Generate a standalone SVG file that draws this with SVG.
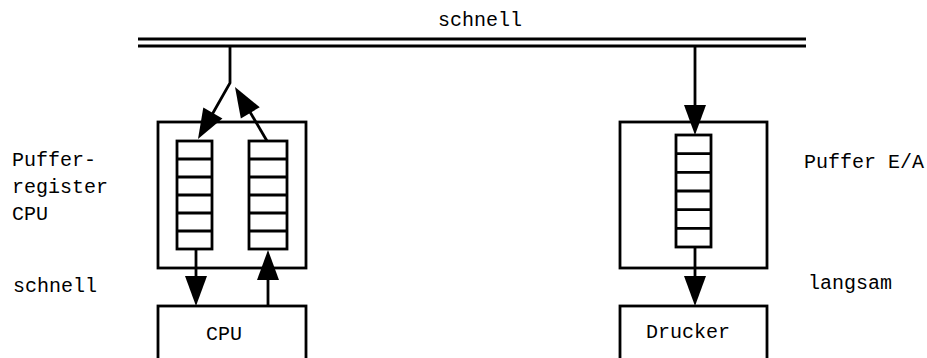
<svg xmlns="http://www.w3.org/2000/svg" width="927" height="358" viewBox="0 0 927 358">
<style>
.b{fill:none;stroke:#000;stroke-width:2.8}
.c{stroke:#000;stroke-width:2.8;fill:none}
.t{font-family:"Liberation Mono","Courier New",monospace;font-size:20px;fill:#000}
</style>
<defs>
<path id="head" d="M0,0 L-30,-11 L-30,11 Z" fill="#000"/>
</defs>
<rect width="927" height="358" fill="#fff"/>
<g id="bus">
<line class="c" x1="138" y1="39" x2="806" y2="39"/>
<line class="c" x1="138" y1="46" x2="806" y2="46"/>
<text class="t" x="438" y="26">schnell</text>
</g>
<g id="puffer-cpu">
<rect class="b" x="158" y="122" width="148" height="146"/>
<rect class="b" x="177" y="141" width="35" height="108"/>
<path class="c" d="M177,159H212M177,177H212M177,195H212M177,213H212M177,231H212"/>
<rect class="b" x="249" y="141" width="38" height="108"/>
<path class="c" d="M249,159H287M249,177H287M249,195H287M249,213H287M249,231H287"/>
</g>
<g id="puffer-ea">
<rect class="b" x="620" y="122" width="147" height="146"/>
<rect class="b" x="676" y="135" width="35" height="112"/>
<path class="c" d="M676,153.7H711M676,172.3H711M676,191H711M676,209.7H711M676,228.3H711"/>
</g>
<g id="cpu">
<rect class="b" x="158" y="306" width="148" height="70"/>
<text class="t" x="206" y="340">CPU</text>
</g>
<g id="drucker">
<rect class="b" x="620" y="306" width="147" height="70"/>
<text class="t" x="646" y="338">Drucker</text>
</g>
<g id="labels">
<text class="t" x="12" y="166">Puffer-</text>
<text class="t" x="12" y="193">register</text>
<text class="t" x="12" y="220">CPU</text>
<text class="t" x="13" y="292">schnell</text>
<text class="t" x="804" y="168">Puffer E/A</text>
<text class="t" x="808" y="289">langsam</text>
</g>
<g id="connectors">
<polyline class="c" points="230,46 230,83 205,127"/>
<use href="#head" transform="translate(198,139) rotate(119.7)"/>
<line class="c" x1="267" y1="141" x2="243" y2="100"/>
<use href="#head" transform="translate(235,87) rotate(-120.65)"/>
<line class="c" x1="196" y1="249" x2="196" y2="280"/>
<use href="#head" transform="translate(196,306) rotate(90)"/>
<line class="c" x1="268" y1="306" x2="268" y2="275"/>
<use href="#head" transform="translate(268,250) rotate(-90)"/>
<line class="c" x1="695" y1="46" x2="695" y2="110"/>
<use href="#head" transform="translate(695,135) rotate(90)"/>
<line class="c" x1="695" y1="247" x2="695" y2="280"/>
<use href="#head" transform="translate(695,306) rotate(90)"/>
</g>
</svg>
